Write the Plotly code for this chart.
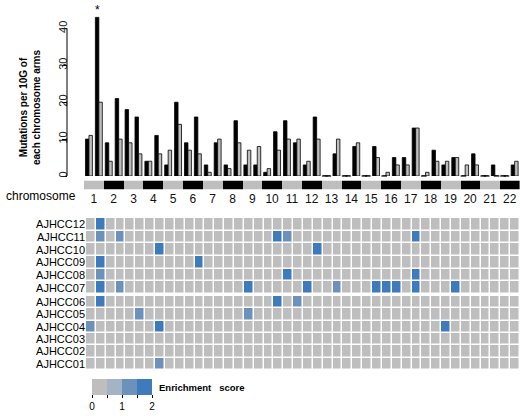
import plotly.graph_objects as go

W, H = 531, 416

# ---------------- data ----------------
chromosomes = [str(c) for c in range(1, 23)]
arms = [f"{c}{a}" for c in range(1, 23) for a in "pq"]

# mutations per 10G of each chromosome arm (p, q for chr1..22)
black_vals = [10, 43, 9, 21, 18, 16, 4, 11, 3, 20, 9, 16, 3, 9, 3, 15, 3, 3, 1, 12, 15, 9,
              3, 16, 0, 6, 0, 8, 0, 8, 0, 5, 5, 13, 0, 7, 3, 5, 0, 6, 0, 3, 0, 3]
gray_vals = [11, 20, 4, 10, 9, 6, 4, 6, 7, 14, 7, 6, 1, 10, 2, 9, 7, 8, 2, 7, 10, 10,
             4, 10, 0, 10, 0, 9, 0, 5, 1, 3, 3, 13, 1, 4, 4, 5, 3, 3, 0, 0, 0, 4]
star_arm = "1q"
y_ticks = [0, 10, 20, 30, 40]

samples = ["AJHCC01", "AJHCC02", "AJHCC03", "AJHCC04", "AJHCC05", "AJHCC06",
           "AJHCC07", "AJHCC08", "AJHCC09", "AJHCC10", "AJHCC11", "AJHCC12"]

# enrichment score per sample and arm (others are 0)
enrich_01 = {"4q": 1.3}
enrich_02 = {}
enrich_03 = {}
enrich_04 = {"1p": 1.3, "4q": 1.8, "19p": 1.8}
enrich_05 = {"3q": 1.3, "9p": 1.3}
enrich_06 = {"1q": 1.8, "10q": 1.8, "11q": 1.3}
enrich_07 = {"1q": 1.8, "2q": 1.3, "9p": 1.8, "12p": 1.8, "13q": 1.3, "15q": 1.8,
             "16p": 1.8, "16q": 1.8, "17q": 1.8, "19q": 1.8}
enrich_08 = {"1q": 1.3, "11p": 1.8, "17q": 1.8}
enrich_09 = {"1q": 1.8, "6q": 1.8}
enrich_10 = {"4q": 1.8, "12q": 1.8}
enrich_11 = {"1q": 1.3, "2q": 1.3, "10q": 1.8, "11p": 1.3, "17q": 1.8}
enrich_12 = {"1q": 1.8}
enrich_all = [enrich_01, enrich_02, enrich_03, enrich_04, enrich_05, enrich_06,
              enrich_07, enrich_08, enrich_09, enrich_10, enrich_11, enrich_12]

legend_ticks = [0, 0.5, 1, 1.5, 2]
legend_ticktext = ["0", "", "1", "", "2"]

# ---------------- helpers ----------------
def fx(p):
    return p / W

def fy(p):
    return 1 - p / H

idx = list(range(len(arms)))
BW = 0.35
FONT = "Liberation Sans, Arial, sans-serif"

fig = go.Figure()

# bars
fig.add_trace(go.Bar(x=idx, y=black_vals, width=BW, offset=-BW,
                     marker=dict(color="black", line=dict(color="black", width=0.8)),
                     xaxis="x", yaxis="y", showlegend=False))
fig.add_trace(go.Bar(x=idx, y=gray_vals, width=BW, offset=0,
                     marker=dict(color="#bebebe", line=dict(color="black", width=0.8)),
                     xaxis="x", yaxis="y", showlegend=False))

# zero-height bars drawn as flat strokes
zx, zy = [], []
for i, v in enumerate(black_vals):
    if v == 0:
        zx.append(i - BW / 2); zy.append(0)
for i, v in enumerate(gray_vals):
    if v == 0:
        zx.append(i + BW / 2); zy.append(0)
fig.add_trace(go.Scatter(x=zx, y=zy, mode="markers", xaxis="x", yaxis="y",
                         marker=dict(symbol="line-ew", size=4, line=dict(color="black", width=1.2)),
                         showlegend=False, cliponaxis=False, hoverinfo="skip"))

# chromosome strip
fig.add_trace(go.Heatmap(x=list(range(len(chromosomes))), y=[0],
                         z=[[i % 2 for i in range(len(chromosomes))]],
                         colorscale=[[0, "#bebebe"], [0.5, "#bebebe"], [0.5, "black"], [1, "black"]],
                         zmin=0, zmax=1, showscale=False, xaxis="x2", yaxis="y2", hoverinfo="skip"))

# heatmap
def zrows(rows):
    return [[enrich_all[r].get(a, 0) for a in arms] for r in rows]

cscale = [[0, "#bebebe"], [0.25, "#bebebe"], [0.25, "#a3b4c6"], [0.5, "#a3b4c6"],
          [0.5, "#6c91bb"], [0.75, "#6c91bb"], [0.75, "#3d7bbd"], [1, "#3d7bbd"]]

top_rows = list(range(6, 12))
bot_rows = list(range(0, 6))
fig.add_trace(go.Heatmap(x=idx, y=[samples[r] for r in top_rows], z=zrows(top_rows),
                         colorscale=cscale, zmin=0, zmax=2, xgap=1.5, ygap=1.5,
                         showscale=False, xaxis="x3", yaxis="y3"))
fig.add_trace(go.Heatmap(x=idx, y=[samples[r] for r in bot_rows], z=zrows(bot_rows),
                         colorscale=cscale, zmin=0, zmax=2, xgap=1.5, ygap=1.5,
                         xaxis="x3", yaxis="y4", showscale=True,
                         colorbar=dict(orientation="h", x=fx(92), xanchor="left",
                                       y=fy(379), yanchor="top",
                                       len=60, lenmode="pixels", thickness=16,
                                       xpad=0, ypad=0, outlinewidth=0,
                                       tickvals=legend_ticks, ticktext=legend_ticktext,
                                       ticks="outside", ticklen=3, tickcolor="black",
                                       tickfont=dict(size=10, color="black", family=FONT))))

bar_dom_x = [fx(84), fx(519.6)]

fig.update_layout(
    width=W, height=H, margin=dict(l=0, r=0, t=0, b=0, autoexpand=False),
    paper_bgcolor="white", plot_bgcolor="white",
    font=dict(family=FONT, color="black"),
    barmode="overlay",
    xaxis=dict(domain=bar_dom_x, range=[-0.5, len(arms) - 0.5], visible=False, anchor="y"),
    yaxis=dict(domain=[fy(176), fy(10)], range=[0, 45], anchor="free", position=fx(67),
               tickvals=y_ticks, tickangle=-90, ticks="outside", ticklen=5,
               ticklabelstandoff=-9,
               tickcolor="black", showgrid=False, zeroline=False, showline=False,
               tickfont=dict(size=11, color="#222")),
    xaxis2=dict(domain=bar_dom_x, range=[-0.5, len(chromosomes) - 0.5], anchor="y2",
                tickvals=list(range(len(chromosomes))), ticktext=chromosomes,
                ticks="", showgrid=False, zeroline=False, showline=False,
                tickfont=dict(size=12, color="#111")),
    yaxis2=dict(domain=[fy(189.5), fy(180.5)], range=[-0.5, 0.5], visible=False, anchor="x2"),
    xaxis3=dict(domain=[fx(86), fx(520)], range=[-0.5, len(arms) - 0.5], visible=False, anchor="y4"),
    yaxis3=dict(domain=[fy(294), fy(218)], anchor="x3", type="category", ticks="",
                tickmode="array", tickvals=[samples[r] for r in top_rows],
                showgrid=False, zeroline=False, tickfont=dict(size=11, color="black")),
    yaxis4=dict(domain=[fy(370), fy(296)], anchor="x3", type="category", ticks="",
                tickmode="array", tickvals=[samples[r] for r in bot_rows],
                showgrid=False, zeroline=False, tickfont=dict(size=11, color="black")),
    shapes=[dict(type="line", xref="paper", yref="y", x0=fx(67), x1=fx(67),
                 y0=y_ticks[0], y1=y_ticks[-1], line=dict(color="black", width=1))],
    annotations=[
        dict(text="*", x=arms.index(star_arm) - BW / 2, y=black_vals[arms.index(star_arm)],
             xref="x", yref="y", xanchor="center", yanchor="bottom", yshift=-2,
             showarrow=False, font=dict(size=12, color="black")),
        dict(text="<b>Mutations per 10G of<br>each chromosome arms</b>", x=fx(30), y=fy(108),
             xref="paper", yref="paper", textangle=-90, xanchor="center", yanchor="middle",
             showarrow=False, font=dict(size=10, color="black")),
        dict(text="chromosome", x=fx(78), y=fy(196), xref="paper", yref="paper",
             xanchor="right", yanchor="middle", showarrow=False,
             font=dict(size=12, color="black")),
        dict(text="<b>Enrichment   score</b>", x=fx(157), y=fy(387), xref="paper", yref="paper",
             xanchor="left", yanchor="middle", showarrow=False,
             font=dict(size=9.5, color="black")),
    ],
)

fig.write_html("out.html", config={"displayModeBar": False},
               post_script="document.body.style.margin='0';")
